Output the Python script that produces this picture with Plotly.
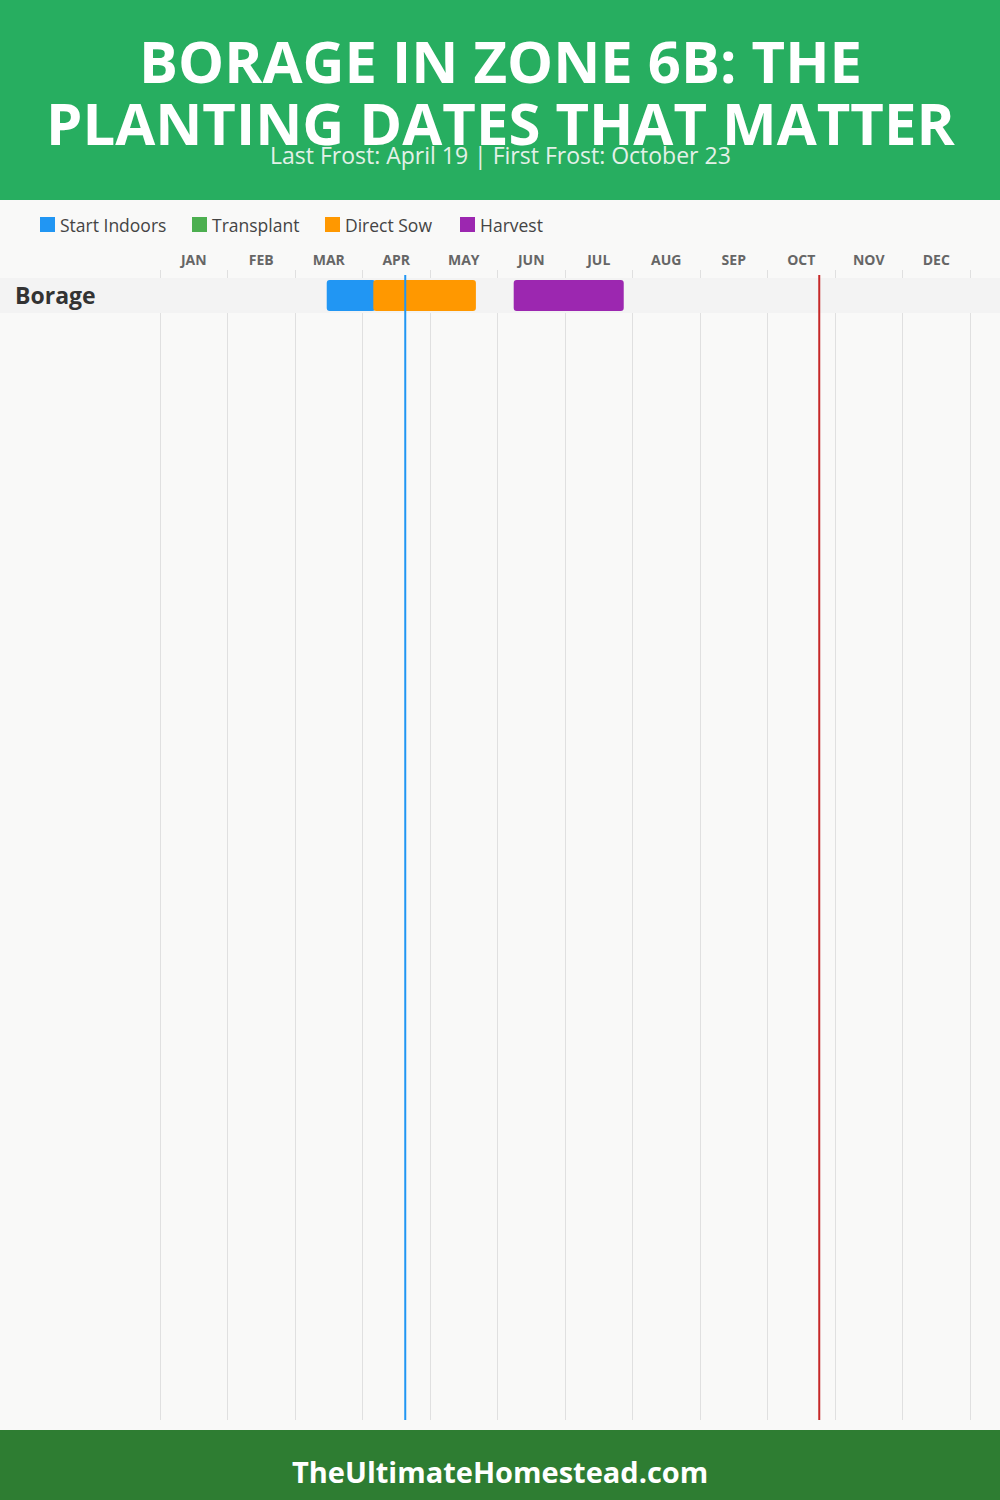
import plotly.graph_objects as go

# ---- data ----
months = ["JAN", "FEB", "MAR", "APR", "MAY", "JUN", "JUL", "AUG", "SEP", "OCT", "NOV", "DEC"]
crops = ["Borage"]
series_names = ["Start Indoors", "Transplant", "Direct Sow", "Harvest"]
series_colors = ["#2196F3", "#4CAF50", "#FF9800", "#9C27B0"]
# start / end in month units (0 = Jan 1, 12 = Dec 31)
start_indoors_start = [2.47]
start_indoors_end = [3.19]
transplant_start = []
transplant_end = []
direct_sow_start = [3.16]
direct_sow_end = [4.68]
harvest_start = [5.24]
harvest_end = [6.87]
last_frost = 3 + 19 / 30    # April 19
first_frost = 9 + 23 / 30   # October 23

title_line1 = "BORAGE IN ZONE 6B: THE"
title_line2 = "PLANTING DATES THAT MATTER"
subtitle = "Last Frost: April 19 | First Frost: October 23"
footer = "TheUltimateHomestead.com"

W, H = 1000, 1500
FONT = "Open Sans"

def px_x(p):
    return p / W

def px_y(p):
    return 1 - p / H

fig = go.Figure()

ranges = [
    (start_indoors_start, start_indoors_end),
    (transplant_start, transplant_end),
    (direct_sow_start, direct_sow_end),
    (harvest_start, harvest_end),
]
for name, color, (s, e) in zip(series_names, series_colors, ranges):
    if not s:
        continue
    fig.add_trace(go.Bar(
        name=name, orientation="h",
        y=crops[:len(s)], base=s, x=[b - a for a, b in zip(s, e)],
        marker=dict(color=color, line=dict(width=0)),
        width=0.886, showlegend=False, hoverinfo="skip",
    ))

# x axis: months 0..12 map to 160..970 px; pad range slightly so edge gridlines are drawn
x_left_px, x_right_px = 160, 970
month_px = (x_right_px - x_left_px) / 12
pad = 0.04
x_dom = [(x_left_px - pad * month_px) / W, (x_right_px + pad * month_px) / W]

# y axis: 1 row unit = 35 px, plot spans 270..1420 px
plot_top, plot_bot = 270, 1420
row_px = 35
row_center_offset = 25.5
y_top = -row_center_offset / row_px
y_bot = y_top + (plot_bot - plot_top) / row_px

shapes = []
# header & footer
shapes.append(dict(type="rect", xref="paper", yref="paper", x0=0, x1=1, y0=px_y(200), y1=1,
                   fillcolor="#27AE60", line=dict(width=0), layer="below"))
shapes.append(dict(type="rect", xref="paper", yref="paper", x0=0, x1=1, y0=0, y1=px_y(1430),
                   fillcolor="#2E7D32", line=dict(width=0), layer="below"))
# row bands
for c in crops:
    shapes.append(dict(type="rect", xref="paper", yref="y", x0=0, x1=1, y0=-0.5, y1=0.5,
                       fillcolor="#F3F3F3", line=dict(width=0), layer="below"))
    shapes.append(dict(type="rect", xref="x", yref="y", x0=-1, x1=13, y0=-0.5, y1=0.5,
                       fillcolor="#F3F3F3", line=dict(width=0), layer="between"))
# frost lines
shapes.append(dict(type="line", xref="x", yref="paper", x0=last_frost, x1=last_frost,
                   y0=px_y(plot_bot), y1=px_y(275), line=dict(color="#2196F3", width=2), layer="above"))
shapes.append(dict(type="line", xref="x", yref="paper", x0=first_frost, x1=first_frost,
                   y0=px_y(plot_bot), y1=px_y(275), line=dict(color="#C62828", width=2), layer="above"))

annotations = []
annotations.append(dict(text=f"<b>{title_line1}</b>", xref="paper", yref="paper", x=0.5, y=px_y(60),
                        showarrow=False, xanchor="center", yanchor="middle",
                        font=dict(family=FONT, size=58, color="white", weight=800)))
annotations.append(dict(text=f"<b>{title_line2}</b>", xref="paper", yref="paper", x=0.5, y=px_y(122),
                        showarrow=False, xanchor="center", yanchor="middle",
                        font=dict(family=FONT, size=58, color="white", weight=800)))
annotations.append(dict(text=subtitle, xref="paper", yref="paper", x=0.5, y=px_y(155),
                        showarrow=False, xanchor="center", yanchor="middle",
                        font=dict(family=FONT, size=23, color="#E3F1E8")))
annotations.append(dict(text=f"<b>{footer}</b>", xref="paper", yref="paper", x=0.5, y=px_y(1471),
                        showarrow=False, xanchor="center", yanchor="middle",
                        font=dict(family=FONT, size=29, color="white")))
# crop labels
for c in crops:
    annotations.append(dict(text=f"<b>{c}</b>", xref="paper", yref="y", x=px_x(13), y=c,
                            showarrow=False, xanchor="left", yanchor="middle",
                            font=dict(family=FONT, size=23, color="#333333")))

# legend (custom)
legend_x = [40, 192, 325, 460]
for name, color, lx in zip(series_names, series_colors, legend_x):
    shapes.append(dict(type="rect", xref="paper", yref="paper", x0=px_x(lx), x1=px_x(lx + 15),
                       y0=px_y(232), y1=px_y(217), fillcolor=color, line=dict(width=0), layer="above"))
    annotations.append(dict(text=name, xref="paper", yref="paper", x=px_x(lx + 18), y=px_y(225),
                            showarrow=False, xanchor="left", yanchor="middle",
                            font=dict(family=FONT, size=17.5, color="#444444")))

fig.update_layout(
    width=W, height=H, autosize=False,
    margin=dict(l=0, r=0, t=0, b=0),
    paper_bgcolor="#F9F9F8", plot_bgcolor="#F9F9F8",
    barmode="overlay", barcornerradius=3,
    showlegend=False,
    shapes=shapes, annotations=annotations,
    xaxis=dict(domain=x_dom, range=[-pad, 12 + pad], side="top",
               tickmode="array", tickvals=[i + 0.5 for i in range(12)], ticktext=months,
               showgrid=False, zeroline=False, showline=False, ticks="",
               ticklabelstandoff=1,
               tickfont=dict(family=FONT, size=14, color="#666666", weight="bold"),
               minor=dict(tickmode="array", tickvals=list(range(13)), showgrid=True,
                          gridcolor="#E0E0E0", gridwidth=1, ticks=""),
               fixedrange=True),
    yaxis=dict(domain=[px_y(plot_bot), px_y(plot_top)], range=[y_bot, y_top],
               type="category", categoryorder="array", categoryarray=crops,
               showticklabels=False, showgrid=False, zeroline=False, showline=False, ticks="",
               fixedrange=True),
)

fig.write_html("out.html", config={"displayModeBar": False},
               post_script="document.body.style.margin='0';document.body.style.padding='0';")
